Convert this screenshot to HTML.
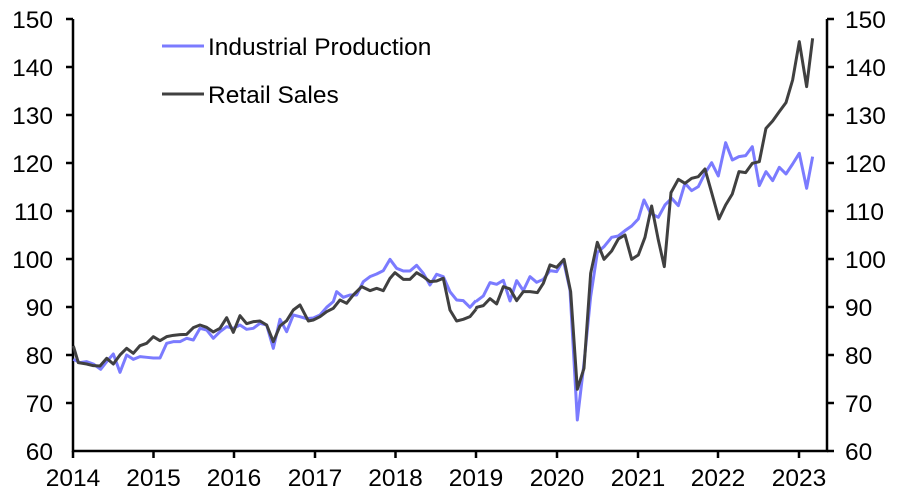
<!DOCTYPE html>
<html><head><style>body{margin:0;background:#fff}svg{display:block}text{font-family:"Liberation Sans",Arial,sans-serif;font-size:24.5px;fill:#000}</style></head><body>
<svg width="900" height="494" viewBox="0 0 900 494">
<g stroke="#000" stroke-width="2.5" fill="none">
<path d="M73 19V451H827V19"/>
<path d="M66 19H73M66 67H73M66 115H73M66 163H73M66 211H73M66 259H73M66 307H73M66 355H73M66 403H73"/>
<path d="M827 19H834M827 67H834M827 115H834M827 163H834M827 211H834M827 259H834M827 307H834M827 355H834M827 403H834M827 451H834"/>
<path d="M73 451V458M153.5 451V458M234 451V458M315 451V458M395.5 451V458M476 451V458M557 451V458M638 451V458M718 451V458M799 451V458"/>
</g>
<g text-anchor="end">
<text x="53" y="28">150</text><text x="53" y="76">140</text><text x="53" y="124">130</text><text x="53" y="172">120</text><text x="53" y="220">110</text><text x="53" y="268">100</text><text x="53" y="316">90</text><text x="53" y="364">80</text><text x="53" y="412">70</text><text x="53" y="460">60</text>
</g>
<g text-anchor="start">
<text x="845" y="28">150</text><text x="845" y="76">140</text><text x="845" y="124">130</text><text x="845" y="172">120</text><text x="845" y="220">110</text><text x="845" y="268">100</text><text x="845" y="316">90</text><text x="845" y="364">80</text><text x="845" y="412">70</text><text x="845" y="460">60</text>
</g>
<g text-anchor="middle">
<text x="73" y="486">2014</text><text x="153.5" y="486">2015</text><text x="234" y="486">2016</text><text x="315" y="486">2017</text><text x="395.5" y="486">2018</text><text x="476" y="486">2019</text><text x="557" y="486">2020</text><text x="638" y="486">2021</text><text x="718" y="486">2022</text><text x="799" y="486">2023</text>
</g>
<g fill="none" stroke-width="3" stroke-linejoin="round">
<g transform="translate(60,220) scale(0.3333)">
<polyline vector-effect="non-scaling-stroke" stroke="#7b7bff" points="40,418 60,428 80,425 100,432 122,448 140,425 160,402 180,457 200,405 220,418 240,410 260,412 280,414 300,414 320,370 340,365 360,365 380,355 400,360 420,325 440,330 460,355 480,335 500,320 520,325 540,315 560,328 580,325 600,310 620,315 640,385 660,298 680,335 700,285 720,290 740,296 760,294 780,285 800,262 820,245 830,215 850,232 870,225 890,225 910,185 930,170 950,162 970,152 990,118 1010,145 1030,153 1050,153 1070,136 1090,160 1110,195 1130,163 1150,170 1170,215 1190,240 1210,242 1230,262 1248,242"/>
<polyline vector-effect="non-scaling-stroke" stroke="#404040" points="40,378 55,428 80,432 100,437 120,438 140,415 160,432 180,405 200,385 220,400 240,377 260,370 280,350 300,362 320,350 340,346 360,344 380,343 400,323 420,315 440,322 460,336 480,325 500,293 520,337 540,287 560,311 580,305 600,303 620,315 640,365 660,318 680,302 700,270 720,255 745,303 760,300 780,290 800,275 820,265 840,240 860,250 880,225 905,200 930,212 950,205 970,212 990,175 1005,158 1030,178 1050,178 1070,158 1090,170 1110,185 1130,183 1150,175 1170,270 1190,303 1210,298 1230,290 1248,268"/>
</g>
<g transform="translate(460,20) scale(0.3333)">
<polyline vector-effect="non-scaling-stroke" stroke="#7b7bff" points="48,840 50,843 70,828 90,788 110,793 130,781 150,843 170,782 190,812 210,770 230,787 250,778 270,752 290,755 310,720 330,810 352,1200 372,1030 392,830 412,698 432,680 455,652 475,648 495,632 515,618 535,597 552,540 572,580 595,592 615,555 635,535 655,557 675,490 695,512 715,500 735,460 755,428 775,468 797,368 817,420 837,410 857,407 877,380 898,497 918,455 938,482 958,442 978,462 998,432 1018,400 1040,505 1058,410"/>
<polyline vector-effect="non-scaling-stroke" stroke="#404040" points="48,868 50,862 70,857 90,836 110,852 130,800 150,807 170,842 190,815 210,815 232,818 250,790 270,735 290,742 312,718 332,815 352,1108 372,1045 392,760 412,667 432,718 455,693 475,657 495,645 515,718 535,705 555,652 575,558 595,660 613,740 633,518 655,478 675,490 695,475 715,470 735,447 755,518 777,597 797,555 817,522 837,455 857,458 877,430 898,425 918,325 938,303 958,275 978,248 998,180 1018,65 1040,200 1058,55"/>
</g>
</g>
<line x1="162" y1="46" x2="204" y2="46" stroke="#7b7bff" stroke-width="3"/>
<line x1="162" y1="94" x2="204" y2="94" stroke="#404040" stroke-width="3"/>
<text x="208" y="55">Industrial Production</text>
<text x="208" y="103">Retail Sales</text>
</svg>
</body></html>
